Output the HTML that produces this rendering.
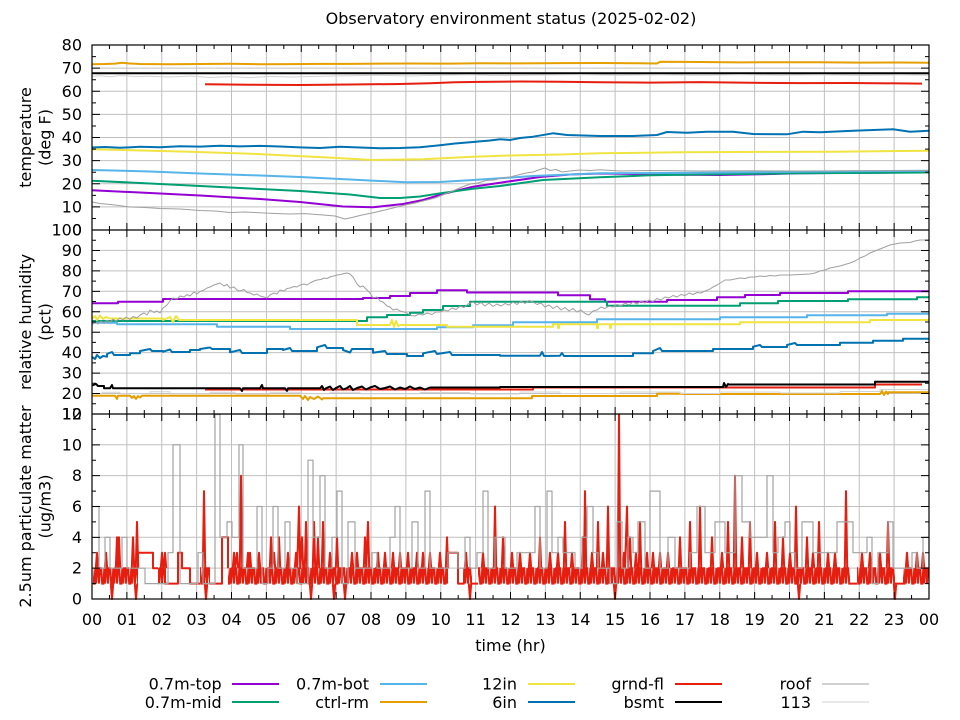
<!DOCTYPE html>
<html>
<head>
<meta charset="utf-8">
<style>
html,body{margin:0;padding:0;background:#fff;}
svg{display:block;}
text{font-family:"DejaVu Sans","Liberation Sans",sans-serif;fill:#000;}
</style>
</head>
<body>
<svg width="960" height="720" viewBox="0 0 960 720" xmlns="http://www.w3.org/2000/svg">
<defs>
<pattern id="zz" patternUnits="userSpaceOnUse" x="0" y="560" width="9" height="32">
<path d="M0,23.6 L1,8.2 L2.2,8.2 L3.2,23.6 L4.5,23.6 L5.3,8.2 L6.1,23.6 L7,8.2 L8,8.2 L9,23.6" fill="none" stroke="#e51e10" stroke-width="2"/>
</pattern>
</defs>
<rect x="0" y="0" width="960" height="720" fill="#fff"/>

<!-- grid -->
<g stroke="#c0c0c0" fill="none">
<line x1="126.375" y1="322" x2="900" y2="322" stroke-width="554" stroke-dasharray="1 33.875"/>
<line x1="510.5" y1="67.6" x2="510.5" y2="210" stroke-width="837" stroke-dasharray="1 22.125"/>
<line x1="510.5" y1="249.9" x2="510.5" y2="396" stroke-width="837" stroke-dasharray="1 19.444"/>
<line x1="510.5" y1="444.3" x2="510.5" y2="570" stroke-width="837" stroke-dasharray="1 29.833"/>
</g>

<!-- ===== Panel 1: temperature ===== -->
<g fill="none" stroke-linejoin="round">
<path stroke="#9400d3" stroke-width="2" d="M92,190.3 L150,193 L200,195.5 L260,199 L300,202 L343,206.5 L373,207.3 L403,204 L423,200 L443,194 L473,186.7 L500,182.7 L540,177 L570,174.5 L600,173.5 L640,174 L680,174.8 L720,175 L760,174.3 L800,173.3 L929,172.3"/>
<path stroke="#009e73" stroke-width="2" d="M92,180.7 L150,183.5 L200,186 L260,189 L300,191 L350,194.5 L380,198 L400,198 L420,196.5 L440,193.3 L473,188.7 L500,186 L543,180 L600,177.3 L650,175.3 L700,174.5 L800,173.3 L929,172.5"/>
<path stroke="#56b4e9" stroke-width="2" d="M92,170 L150,171.5 L200,173.5 L260,175.5 L300,177 L350,179.5 L406,182.3 L440,182 L473,180 L500,178.3 L533,176 L600,173.3 L700,172.7 L800,171.7 L929,170.7"/>
<path stroke="#e69f00" stroke-width="2" d="M92,64.2 L105,64 L115,63.6 L122,62.8 L128,63.4 L140,64 L170,64.3 L200,64 L230,63.8 L260,64.2 L290,64.1 L320,63.9 L350,63.9 L380,63.6 L410,63.5 L450,63.6 L480,63.2 L520,63.4 L560,63.1 L600,63 L640,63.3 L657,63.5 L660,61.8 L700,62 L740,62.4 L780,62.2 L820,62.3 L860,62.6 L900,62.5 L929,62.8"/>
<path stroke="#f0e442" stroke-width="2" d="M92,149.3 L190,151.7 L257,154 L323,157.3 L373,160 L423,159.3 L473,156.7 L510,155.5 L560,154.5 L600,153.3 L680,152.3 L733,152 L833,151.7 L929,150.7"/>
<path stroke="#0072b2" stroke-width="2" d="M92,147.5 L105,147 L120,147.8 L140,146.8 L160,147.3 L180,146.2 L200,146.6 L220,145.8 L240,146.4 L260,145.9 L280,146.5 L300,147.4 L320,148 L340,146.8 L360,147.5 L380,148.3 L400,148 L420,147.2 L440,145.2 L455,143.5 L470,142.2 L490,140.5 L500,139.3 L510,140 L520,138 L533,136.7 L553,133.3 L567,135 L600,136 L633,136 L657,135 L667,132 L687,132.7 L707,131.7 L733,131.7 L753,134 L787,134.3 L803,131.7 L820,132.3 L853,130.7 L893,129.3 L910,131.7 L929,130.7"/>
<path stroke="#e51e10" stroke-width="2" d="M205,84.3 L250,84.7 L300,85 L350,84.5 L400,84 L430,83.2 L455,82.3 L480,81.9 L520,81.5 L560,81.7 L600,82.3 L650,82.6 L700,82.1 L750,82.8 L800,83.1 L850,83 L900,83.4 L922,83.6"/>
<path stroke="#000" stroke-width="2" d="M92,73.2 L929,73.2"/>
<path stroke="#a0a0a0" stroke-width="1" d="M92,202 L100,203.5 L115,205 L130,207 L145,207.5 L160,208.5 L180,209 L200,210.5 L215,211 L230,212.5 L245,212 L260,212.8 L275,213.5 L290,214 L305,213.6 L320,214.8 L335,216 L345,219 L352,217.5 L362,215 L372,213 L385,210 L395,207.5 L405,205 L415,203 L425,200.5 L435,198 L445,194 L455,190 L462,187 L470,184 L478,183 L486,180.5 L494,180 L502,178 L510,177 L518,175 L526,173 L533,172 L540,169.5 L545,168 L550,170.5 L556,169.5 L562,172 L570,171 L580,170 L590,170.5 L600,169.8 L620,171 L650,170.5 L700,171 L750,170.8 L800,171 L850,170.8 L929,170.5"/>
<path stroke="#d3d3d3" stroke-width="1" d="M92,76.5 L100,75.8 L110,76.8 L120,75.6 L135,76.4 L150,76.2 L170,77 L190,76 L210,77.5 L230,76.6 L250,77.6 L270,76.4 L290,77 L320,76.2 L350,75.8 L380,75.3 L410,76 L440,75.2 L470,74.8 L500,75.6 L540,75 L580,74.6 L620,75.2 L660,74.8 L700,75.4 L740,74.6 L780,75.2 L820,74.8 L860,75.4 L900,74.8 L929,75.2"/>
</g>

<!-- ===== Panel 2: humidity ===== -->
<g fill="none" stroke-linejoin="round">
<path stroke="#9400d3" stroke-width="2" d="M92,303.3 H118 V301.7 H163 V299 H363 V298 H390 V296 H410 V293 H437 V290.3 H467 V292.5 H558 V295.3 H590 V299.3 H605 V301.7 H667 V300 H717 V297.3 H745 V295 H780 V293 H848 V291.3 H929"/>
<path stroke="#009e73" stroke-width="2" d="M92,321 H367 V317.3 H387 V315 H410 V312.7 H423 V310 H443 V306 H470 V301.7 H607 V305.7 H740 V303.3 H778 V301 H848 V299.3 H917 V297.3 H929"/>
<path stroke="#56b4e9" stroke-width="2" d="M92,322.7 H117 V324.3 H217 V326.7 H290 V329 H437 V327.3 H473 V325.3 H513 V322.3 H597 V319.3 H720 V317.3 H807 V315.3 H887 V313.7 H929"/>
<path stroke="#e69f00" stroke-width="2" d="M92,395.7 H115 L117,399 L118,395.7 H130 L132,398 L134,396 L136,399 L138,396 L140,397.5 L142,395.7 H300 L303,399 L305,396 L308,400 L310,397 L314,399 L318,396.5 L322,399.5 L323,398.3 H532 V396 H657 V393.7 H683 V394 H880 L882,391 L884,395 L886,391.5 L888,394 V392.3 H929"/>
<path stroke="#f0e442" stroke-width="2" d="M92,318.5 L95,316 L97,320 L100,315.5 L103,319 L106,317 L110,318.5 H163 V320 L170,317 L173,322 L176,316 L179,320 H357 V325 H390 L392,320 L394,327 L396,321 L398,326 L400,325 H447 V326.7 H553 V324.3 H558 V328 H559 V324.3 H597 V328 H598 V324.3 H610 V328 H611 V324.3 H740 V322.3 H870 V320 H929"/>
<path stroke="#0072b2" stroke-width="2" d="M92,357 L95,359 L97,355 L100,358 L103,356 L107,356.7 V354 L112,352 L114,355 H130 V353.3 H140 V351 L150,349 L152,351 H163 V351.7 L170,349.5 L172,352 H190 V350 H200 V349 L210,347.5 L212,349 H230 V352.3 L240,350 L242,353 H267 V349 H283 V350 L290,348 L292,351 H317 V347.3 L325,345 L327,348 H343 V350 L350,352.5 L352,349 H373 V352.7 L385,351 L387,354 H407 V356 H423 V353.3 L435,351 L437,354 L450,352 L452,355 H500 V355.7 L540,355.7 L542,352 L544,356 L560,355.7 L562,353 L564,356 H633 V353.3 H653 V351 L660,348 L662,351 H713 V349 H753 V346.7 L760,345 L762,347 H787 V345 L795,343 L797,345 H840 V342.7 H873 V340.7 H903 V338.7 H929"/>
<path stroke="#e51e10" stroke-width="2" d="M205,389.5 H533 V387.5 H875 V384.5 H922"/>
<path stroke="#000" stroke-width="2" d="M92,385.5 L96,384 L98,386 L104,386 V388.3 H110 L112,385 L113,388.3 H240 L242,391 L243,388.3 H260 L262,385 L263,388.3 H285 L287,391 L288,388.3 H320 L322,386 L324,390 L326,388.3 L330,386.5 L333,390 L336,388 L340,386 L343,389.5 L347,388 L350,386 L353,390 L357,388 L362,386.5 L366,389.5 L370,387.5 L375,386 L380,389 L385,388 L390,386.5 L395,389.5 L400,387.5 L405,389 L410,386.5 L415,389 L420,387.5 L425,389.5 L430,387.5 H500 V387 H723 L724,383 L726,387 L728,384 V384.5 H875 V381.7 H929"/>
<path stroke="#a0a0a0" stroke-width="1" d="M92,325 L95,322 L98,324 L101,321 L104,323.5 L107,320 L110,322.5 L113,319 L116,321 L120,318 L123,320 L126,317 L130,319.5 L133,316.5 L137,318 L140,315 L144,313 L147,315 L150,310 L154,312.5 L157,311 L160,313 L163,308 L167,305 L170,301 L173,298 L177,299 L180,296 L184,297 L187,294.5 L190,296 L194,292 L197,294 L200,291.5 L204,290 L207,288 L210,287 L214,285 L217,284 L220,283 L224,286 L227,284.5 L230,288 L234,287 L237,290 L240,291 L244,289.5 L247,292.5 L250,293 L254,295 L257,294 L260,296 L264,297 L267,298 L270,295 L274,293 L277,294 L280,290 L284,291 L287,288.5 L290,288 L294,286.5 L297,287 L300,285 L304,284 L307,285 L310,283 L314,281 L317,280 L321,279.5 L324,278 L327,278.5 L331,276.5 L334,276 L337,275 L341,274.5 L344,273.5 L347,273 L350,274 L353,277 L357,284 L360,287 L363,286 L367,290 L370,293 L373,298 L377,297 L380,301 L383,302 L387,306 L390,307 L393,310 L397,309 L400,311 L404,312 L407,313 L411,315.5 L415,316 L419,314 L423,315 L427,313 L432,314.5 L436,312 L440,312 L444,310 L448,311 L452,308 L456,309.5 L460,306 L464,307.5 L468,304 L473,302 L477,305 L481,302.5 L485,306 L489,303 L493,306.5 L497,304 L501,306 L505,303.5 L509,305 L513,302 L517,304.5 L521,301 L525,303.5 L529,300.5 L533,302 L537,304.5 L541,303 L545,307 L549,305 L553,308.5 L557,306 L561,310 L565,307.5 L569,311 L573,308.5 L577,312 L581,310 L585,313.5 L589,315 L593,311 L597,310 L601,307 L605,308.5 L609,306 L613,307 L617,304.5 L621,306 L625,303 L629,305 L633,302 L637,304 L641,301 L645,303 L649,300 L653,301.5 L657,298.5 L661,300 L665,297 L669,298 L673,295.5 L677,297 L681,294.5 L685,295.5 L689,293 L693,294.5 L697,292.5 L701,293 L705,291 L709,289.5 L713,287 L717,285 L721,282.5 L725,280 L730,280 L735,279 L740,278 L745,278.5 L750,277 L755,277 L760,276 L765,276.5 L770,275.5 L775,276 L780,275 L790,275 L800,274.5 L810,274 L815,273 L820,271 L825,270 L830,268 L835,267 L840,266 L845,264.5 L850,263 L855,261 L860,258 L865,256 L870,253 L875,251 L880,249 L885,247 L890,245 L895,244 L900,243 L910,242.5 L915,241 L920,240 L929,240"/>
<path stroke="#d3d3d3" stroke-width="1" d="M92,393.8 H102 V392.2 H120 V393.8 H150 V391.8 H170 V393.8 H210 V392.3 H235 V394 H270 V392.3 H300 V393.8 H330 V392.3 H360 V393.8 H420 V392.5 H470 V394 H520 V392 H560 V393.5 H620 V392 H680 V393.5 H720 V392 H780 V393 H840 V391.5 H880 V389.5 H929"/>
</g>

<!-- ===== Panel 3: PM2.5 ===== -->
<g fill="url(#zz)">
<rect x="93" y="565" width="45" height="22"/>
<rect x="158" y="565" width="7" height="22"/>
<rect x="200" y="565" width="10" height="22"/>
<rect x="228" y="565" width="220" height="22"/>
<rect x="463" y="565" width="9" height="22"/>
<rect x="478" y="565" width="372" height="22"/>
<rect x="857" y="565" width="38" height="22"/>
<rect x="903" y="565" width="26" height="22"/>
</g>
<g fill="none" stroke="#e51e10" stroke-width="2" stroke-linejoin="round">
<path d="M138,568.2 V552.7 H153 V568.2 H158 M165,568.2 V583.6 H178 V552.7 H182 V568.2 H190 V583.6 H200 M210,583.6 H222 V537.3 H228 V568.2 M448,568.2 V552.7 H458 V583.6 H463 M472,583.6 H478 M850,583.6 H857 M895,583.6 H903"/>
<path d="M95.8,568.2 L97,552.7 L98.2,568.2 M104.8,568.2 L106,552.7 L107.2,568.2 M115.8,568.2 L117,537.3 L118,568.2 L119,537.3 L120.2,568.2 M131.8,568.2 L133,537.3 L134.2,568.2 M135.8,568.2 L137,521.9 L138.2,568.2 M160.8,568.2 L162,552.7 L163.2,568.2 M163.8,568.2 L165,552.7 L166.2,568.2 M202.8,568.2 L204,491.1 L205.2,568.2 M232.8,568.2 L234,552.7 L235.2,568.2 L237,552.7 L238.2,568.2 M239.8,568.2 L241,475.7 L242.2,568.2 M246.8,568.2 L248,552.7 L249,568.2 L250,552.7 L251.2,568.2 M257.8,568.2 L259,552.7 L260.2,568.2 M269.8,568.2 L271,537.3 L272.2,568.2 L274,552.7 L275.2,568.2 M277.8,568.2 L279,537.3 L280.2,568.2 M286.8,568.2 L288,552.7 L289.2,568.2 M294.8,568.2 L296,552.7 L297.2,568.2 L299,506.5 L300.2,568.2 L302,537.3 L303.2,568.2 M304.8,568.2 L306,521.9 L307.2,568.2 M312.8,568.2 L314,521.9 L315.2,568.2 M316.8,568.2 L318,537.3 L319.2,568.2 M321.8,568.2 L323,521.9 L324.2,568.2 M328.8,568.2 L330,552.7 L331.2,568.2 M335.8,568.2 L337,537.3 L338.2,568.2 M350.8,568.2 L352,552.7 L353.2,568.2 M355.8,568.2 L357,552.7 L358.2,568.2 M363.8,568.2 L365,537.3 L366.2,568.2 L368,521.9 L369.2,568.2 M376.8,568.2 L378,552.7 L379.2,568.2 M383.8,568.2 L385,552.7 L386.2,568.2 M391.8,568.2 L393,552.7 L394.2,568.2 M398.8,568.2 L400,552.7 L401.2,568.2 M406.8,568.2 L408,552.7 L409.2,568.2 M415.8,568.2 L417,552.7 L418.2,568.2 M421.8,568.2 L423,552.7 L424.2,568.2 M428.8,568.2 L430,552.7 L431.2,568.2 M438.8,568.2 L440,552.7 L441.2,568.2 M445.8,568.2 L447,537.3 L448.2,568.2 M464.8,568.2 L466,552.7 L467.2,568.2 M481.8,568.2 L483,552.7 L484.2,568.2 M493.8,568.2 L495,506.5 L496.2,568.2 M501.8,568.2 L503,537.3 L504.2,568.2 M510.8,568.2 L512,552.7 L513.2,568.2 M518.8,568.2 L520,552.7 L521.2,568.2 M528.8,568.2 L530,552.7 L531.2,568.2 M538.8,568.2 L540,537.3 L541.2,568.2 M548.8,568.2 L550,552.7 L551.2,568.2 M556.8,568.2 L558,552.7 L559.2,568.2 M563.8,568.2 L565,521.9 L566.2,568.2 M570.8,568.2 L572,552.7 L573.2,568.2 M581.8,568.2 L583,537.3 L584,568.2 L585,491.1 L586.2,568.2 M590.8,568.2 L592,552.7 L593.2,568.2 M596.8,568.2 L598,521.9 L599.2,568.2 M601.8,568.2 L603,552.7 L604.2,568.2 M606.8,568.2 L608,506.5 L609.2,568.2 M617.8,568.2 L619,414.5 L620.2,568.2 M622.8,568.2 L624,552.7 L625,568.2 L627,506.5 L628.2,568.2 L630,537.3 L631.2,568.2 M634.8,568.2 L636,552.7 L637.2,568.2 M638.8,568.2 L640,521.9 L641.2,568.2 M645.8,568.2 L647,552.7 L648.2,568.2 M651.8,568.2 L653,552.7 L654.2,568.2 M658.8,568.2 L660,552.7 L661.2,568.2 M666.8,568.2 L668,552.7 L669.2,568.2 M678.8,568.2 L680,537.3 L681.2,568.2 M688.8,568.2 L690,521.9 L691.2,568.2 M698.8,568.2 L700,506.5 L701.2,568.2 M710.8,568.2 L712,537.3 L713.2,568.2 M720.8,568.2 L722,552.7 L723.2,568.2 M726.8,568.2 L728,521.9 L729.2,568.2 M733.8,568.2 L735,475.7 L736.2,568.2 M740.8,568.2 L742,537.3 L743.2,568.2 M748.8,568.2 L750,521.9 L751.2,568.2 M755.8,568.2 L757,552.7 L758.2,568.2 M765.8,568.2 L767,552.7 L768.2,568.2 M773.8,568.2 L775,521.9 L776.2,568.2 M781.8,568.2 L783,537.3 L784.2,568.2 M788.8,568.2 L790,552.7 L791.2,568.2 M794.8,568.2 L796,506.5 L797.2,568.2 M805.8,568.2 L807,537.3 L808.2,568.2 M811.8,568.2 L813,552.7 L814.2,568.2 M817.8,568.2 L819,521.9 L820.2,568.2 M826.8,568.2 L828,552.7 L829.2,568.2 M833.8,568.2 L835,552.7 L836.2,568.2 M844.8,568.2 L846,491.1 L847.2,568.2 M860.8,568.2 L862,552.7 L863.2,568.2 M868.8,568.2 L870,552.7 L871.2,568.2 M878.8,568.2 L880,552.7 L881.2,568.2 M886.8,568.2 L888,521.9 L889.2,568.2 M905.8,568.2 L907,552.7 L908.2,568.2 M915.8,568.2 L917,552.7 L918.2,568.2 M921.8,568.2 L923,552.7 L924.2,568.2"/>
<path d="M110.8,583.6 L112,599 L113.2,583.6 M134.8,583.6 L136,599 L137.2,583.6 M204.8,583.6 L206,599 L207.2,583.6 M309.8,583.6 L311,599 L312.2,583.6 M332.8,583.6 L334,599 L335.2,583.6 M343.8,583.6 L345,599 L346.2,583.6 M468.8,583.6 L470,599 L471.2,583.6 M613.8,583.6 L615,599 L616.2,583.6 M797.8,583.6 L799,599 L800.2,583.6 M893.8,583.6 L895,599 L896.2,583.6"/>
</g>
<path fill="none" stroke="#a4a4a4" stroke-width="1.2" d="M93,506.5 H99 V568.2 H105 V537.3 H110 V568.2 H122 V537.3 H127 V568.2 H145 V583.6 H168 V552.7 H173 V444.8 H180 V583.6 H198 V552.7 H203 V583.6 H215 V414.5 H220 V537.3 H227 V521.9 H232 V537.3 H239 V444.8 H243 V568.2 H257 V506.5 H262 V583.6 H268 V568.2 H273 V506.5 H278 V568.2 H285 V521.9 H290 V568.2 H297 V583.6 H308 V460.2 H313 V537.3 H320 V475.7 H325 V568.2 H332 V537.3 H337 V491.1 H342 V583.6 H348 V521.9 H355 V568.2 H372 V552.7 H377 V568.2 H390 V537.3 H395 V506.5 H400 V568.2 H412 V521.9 H418 V568.2 H425 V491.1 H430 V568.2 H448 V552.7 H458 V568.2 H465 V537.3 H470 V568.2 H477 V552.7 H483 V491.1 H488 V568.2 H495 V537.3 H505 V568.2 H517 V552.7 H535 V506.5 H540 V568.2 H547 V491.1 H552 V552.7 H558 V537.3 H563 V552.7 H575 V568.2 H582 V537.3 H587 V506.5 H593 V552.7 H598 V568.2 H610 V583.6 H617 V521.9 H622 V568.2 H628 V537.3 H633 V552.7 H638 V521.9 H645 V568.2 H650 V491.1 H660 V568.2 H668 V537.3 H675 V568.2 H690 V552.7 H697 V506.5 H705 V552.7 H715 V521.9 H725 V552.7 H735 V475.7 H742 V521.9 H750 V537.3 H767 V475.7 H773 V552.7 H778 V537.3 H785 V521.9 H790 V552.7 H795 V568.2 H802 V521.9 H813 V552.7 H837 V521.9 H853 V552.7 H867 V537.3 H872 V583.6 H878 V552.7 H888 V521.9 H893 V568.2 H912 V552.7 H917 V568.2 H923 V537.3 H929"/>

<!-- ticks -->
<g stroke="#000" fill="none">
<line x1="91.5" y1="48.5" x2="929.5" y2="48.5" stroke-width="7" stroke-dasharray="1 33.875"/>
<line x1="108.94" y1="47" x2="929" y2="47" stroke-width="4" stroke-dasharray="1 33.875"/>
<line x1="91.5" y1="230" x2="929.5" y2="230" stroke-width="14" stroke-dasharray="1 33.875"/>
<line x1="108.94" y1="230" x2="929" y2="230" stroke-width="8" stroke-dasharray="1 33.875"/>
<line x1="91.5" y1="414" x2="929.5" y2="414" stroke-width="14" stroke-dasharray="1 33.875"/>
<line x1="108.94" y1="414" x2="929" y2="414" stroke-width="8" stroke-dasharray="1 33.875"/>
<line x1="91.5" y1="595.5" x2="929.5" y2="595.5" stroke-width="7" stroke-dasharray="1 33.875"/>
<line x1="108.94" y1="597" x2="929" y2="597" stroke-width="4" stroke-dasharray="1 33.875"/>
<line x1="96" y1="44.5" x2="96" y2="230.5" stroke-width="8" stroke-dasharray="1 22.125"/>
<line x1="94" y1="56.1" x2="94" y2="222" stroke-width="4" stroke-dasharray="1 22.125"/>
<line x1="925" y1="44.5" x2="925" y2="230.5" stroke-width="8" stroke-dasharray="1 22.125"/>
<line x1="927" y1="56.1" x2="927" y2="222" stroke-width="4" stroke-dasharray="1 22.125"/>
<line x1="96" y1="229.5" x2="96" y2="414.5" stroke-width="8" stroke-dasharray="1 19.444"/>
<line x1="94" y1="239.7" x2="94" y2="410" stroke-width="4" stroke-dasharray="1 19.444"/>
<line x1="925" y1="229.5" x2="925" y2="414.5" stroke-width="8" stroke-dasharray="1 19.444"/>
<line x1="927" y1="239.7" x2="927" y2="410" stroke-width="4" stroke-dasharray="1 19.444"/>
<line x1="96" y1="413.5" x2="96" y2="599.5" stroke-width="8" stroke-dasharray="1 29.833"/>
<line x1="94" y1="428.9" x2="94" y2="590" stroke-width="4" stroke-dasharray="1 29.833"/>
<line x1="925" y1="413.5" x2="925" y2="599.5" stroke-width="8" stroke-dasharray="1 29.833"/>
<line x1="927" y1="428.9" x2="927" y2="590" stroke-width="4" stroke-dasharray="1 29.833"/>
</g>

<!-- frames -->
<g stroke="#000" stroke-width="1.2" fill="none">
<rect x="92" y="45" width="837" height="554"/>
<line x1="92" y1="230" x2="929" y2="230"/>
<line x1="92" y1="414" x2="929" y2="414"/>
</g>

<!-- title -->
<text x="511" y="24" font-size="16" text-anchor="middle">Observatory environment status (2025-02-02)</text>

<!-- y tick labels -->
<g font-size="16" text-anchor="end">
<text x="82" y="50.5">80</text>
<text x="82" y="73.6">70</text>
<text x="82" y="96.8">60</text>
<text x="82" y="119.9">50</text>
<text x="82" y="143">40</text>
<text x="82" y="166.1">30</text>
<text x="82" y="189.3">20</text>
<text x="82" y="212.4">10</text>
<text x="82" y="235.5">0</text>
<text x="82" y="235.5">100</text>
<text x="82" y="255.9">90</text>
<text x="82" y="276.4">80</text>
<text x="82" y="296.8">70</text>
<text x="82" y="317.3">60</text>
<text x="82" y="337.7">50</text>
<text x="82" y="358.2">40</text>
<text x="82" y="378.6">30</text>
<text x="82" y="399.1">20</text>
<text x="82" y="419.5">10</text>
<text x="82" y="419.5">12</text>
<text x="82" y="450.3">10</text>
<text x="82" y="481.2">8</text>
<text x="82" y="512">6</text>
<text x="82" y="542.8">4</text>
<text x="82" y="573.7">2</text>
<text x="82" y="604.5">0</text>
</g>

<!-- x tick labels -->
<g font-size="16" text-anchor="middle">
<text x="92" y="625">00</text>
<text x="126.9" y="625">01</text>
<text x="161.8" y="625">02</text>
<text x="196.6" y="625">03</text>
<text x="231.5" y="625">04</text>
<text x="266.4" y="625">05</text>
<text x="301.3" y="625">06</text>
<text x="336.1" y="625">07</text>
<text x="371" y="625">08</text>
<text x="405.9" y="625">09</text>
<text x="440.8" y="625">10</text>
<text x="475.6" y="625">11</text>
<text x="510.5" y="625">12</text>
<text x="545.4" y="625">13</text>
<text x="580.3" y="625">14</text>
<text x="615.1" y="625">15</text>
<text x="650" y="625">16</text>
<text x="684.9" y="625">17</text>
<text x="719.8" y="625">18</text>
<text x="754.6" y="625">19</text>
<text x="789.5" y="625">20</text>
<text x="824.4" y="625">21</text>
<text x="859.3" y="625">22</text>
<text x="894.1" y="625">23</text>
<text x="929" y="625">00</text>
</g>

<text x="510.5" y="651" font-size="16" text-anchor="middle">time (hr)</text>

<!-- y axis labels -->
<g font-size="16" text-anchor="middle">
<text transform="translate(31,137.5) rotate(-90)">temperature</text>
<text transform="translate(50.5,137.5) rotate(-90)">(deg F)</text>
<text transform="translate(31,322) rotate(-90)">relative humidity</text>
<text transform="translate(50.5,322) rotate(-90)">(pct)</text>
<text transform="translate(31,506.5) rotate(-90)">2.5um particulate matter</text>
<text transform="translate(50.5,506.5) rotate(-90)">(ug/m3)</text>
</g>

<!-- legend -->
<g font-size="16" text-anchor="end">
<text x="221.7" y="689.5">0.7m-top</text>
<text x="221.7" y="708">0.7m-mid</text>
<text x="369" y="689.5">0.7m-bot</text>
<text x="369" y="708">ctrl-rm</text>
<text x="517" y="689.5">12in</text>
<text x="517" y="708">6in</text>
<text x="664" y="689.5">grnd-fl</text>
<text x="664" y="708">bsmt</text>
<text x="811" y="689.5">roof</text>
<text x="811" y="708">113</text>
</g>
<g fill="none">
<line x1="232" y1="684" x2="279" y2="684" stroke="#9400d3" stroke-width="2"/>
<line x1="232" y1="702" x2="279" y2="702" stroke="#009e73" stroke-width="2"/>
<line x1="380" y1="684" x2="427" y2="684" stroke="#56b4e9" stroke-width="2"/>
<line x1="380" y1="702" x2="427" y2="702" stroke="#e69f00" stroke-width="2"/>
<line x1="528" y1="684" x2="575" y2="684" stroke="#f0e442" stroke-width="2"/>
<line x1="528" y1="702" x2="575" y2="702" stroke="#0072b2" stroke-width="2"/>
<line x1="675" y1="684" x2="722" y2="684" stroke="#e51e10" stroke-width="2"/>
<line x1="675" y1="702" x2="722" y2="702" stroke="#000" stroke-width="2"/>
<line x1="822" y1="684" x2="869" y2="684" stroke="#a0a0a0" stroke-width="1"/>
<line x1="822" y1="702" x2="869" y2="702" stroke="#d3d3d3" stroke-width="1"/>
</g>
</svg>
</body>
</html>
